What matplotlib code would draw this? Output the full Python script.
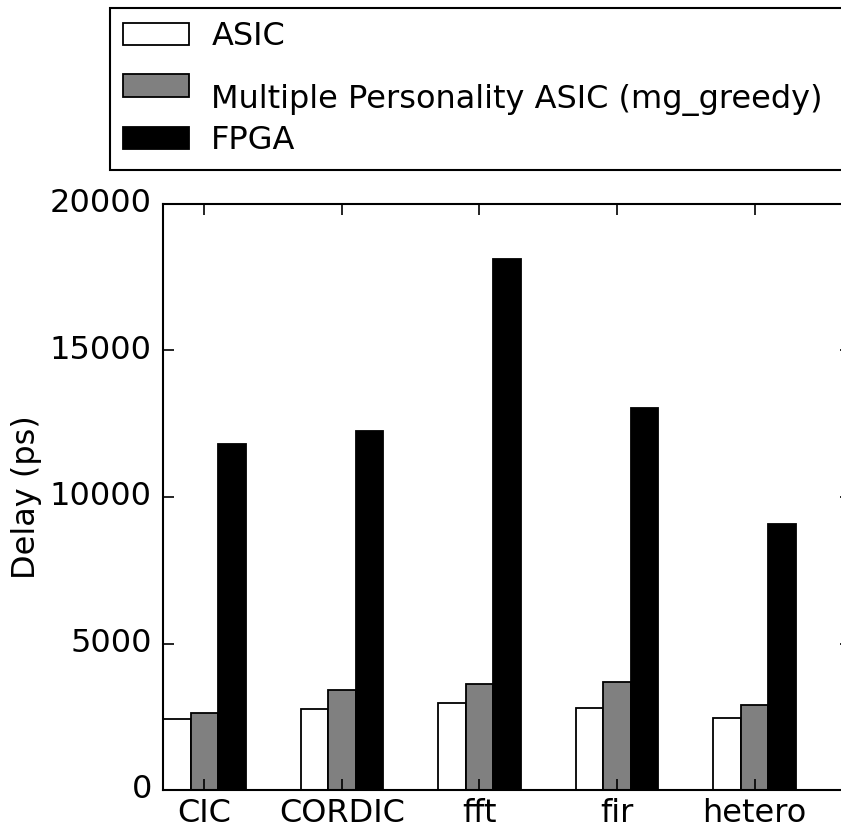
import numpy as np
import matplotlib
matplotlib.use("Agg")
import matplotlib.pyplot as plt

# delay per benchmark (ps)
benchmarks = ["CIC", "CORDIC", "fft", "fir", "hetero"]
asic = [2430, 2760, 2960, 2810, 2470]
mp_asic = [2640, 3425, 3620, 3700, 2910]
fpga = [11820, 12250, 18120, 13030, 9090]
series_names = ["ASIC", "Multiple Personality ASIC (mg_greedy)", "FPGA"]
yticks = [0, 5000, 10000, 15000, 20000]

plt.style.use("classic")
plt.rcParams["font.family"] = ["DejaVu Sans"]
plt.rcParams["font.size"] = 23
plt.rcParams["axes.linewidth"] = 1.5
plt.rcParams["savefig.facecolor"] = "white"

fig = plt.figure(figsize=(8.41, 8.33), dpi=100, facecolor="white")
ax = fig.add_axes([163 / 841, 43 / 833, 688 / 841, 586 / 833])

x = np.arange(len(benchmarks))
w = 0.2
b1 = ax.bar(x - w, asic, w, color="white", edgecolor="black", linewidth=1.3, align="center")
b2 = ax.bar(x, mp_asic, w, color="#808080", edgecolor="black", linewidth=1.3, align="center")
b3 = ax.bar(x + w, fpga, w, color="black", edgecolor="black", linewidth=1.3, align="center")

ax.set_xlim(-0.3, 4.7)
ax.set_ylim(0, 20000)
ax.set_yticks(yticks)
ax.set_xticks(x)
ax.set_xticklabels(benchmarks)
ax.set_ylabel("Delay (ps)", labelpad=6)
ax.tick_params(axis="both", direction="in", length=8, width=1.2, labelsize=23)
ax.tick_params(axis="x", pad=6)
ax.tick_params(axis="y", pad=8)

# legend box sits above the axes and runs off the right edge
leg = fig.legend([b1, b2, b3], series_names,
                 loc="upper left", mode="expand",
                 bbox_to_anchor=(110 / 841, 825 / 833, 780 / 841, 0.0),
                 borderaxespad=0, fontsize=23,
                 handlelength=2.05, handleheight=0.7,
                 handletextpad=0.7, borderpad=0.42, labelspacing=0.64)
leg.get_frame().set_linewidth(1.5)
leg.get_frame().set_edgecolor("black")
# long label sits a bit lower than its swatch in the original
leg.get_texts()[1].set_y(-11)

fig.savefig("out.png", dpi=100)
